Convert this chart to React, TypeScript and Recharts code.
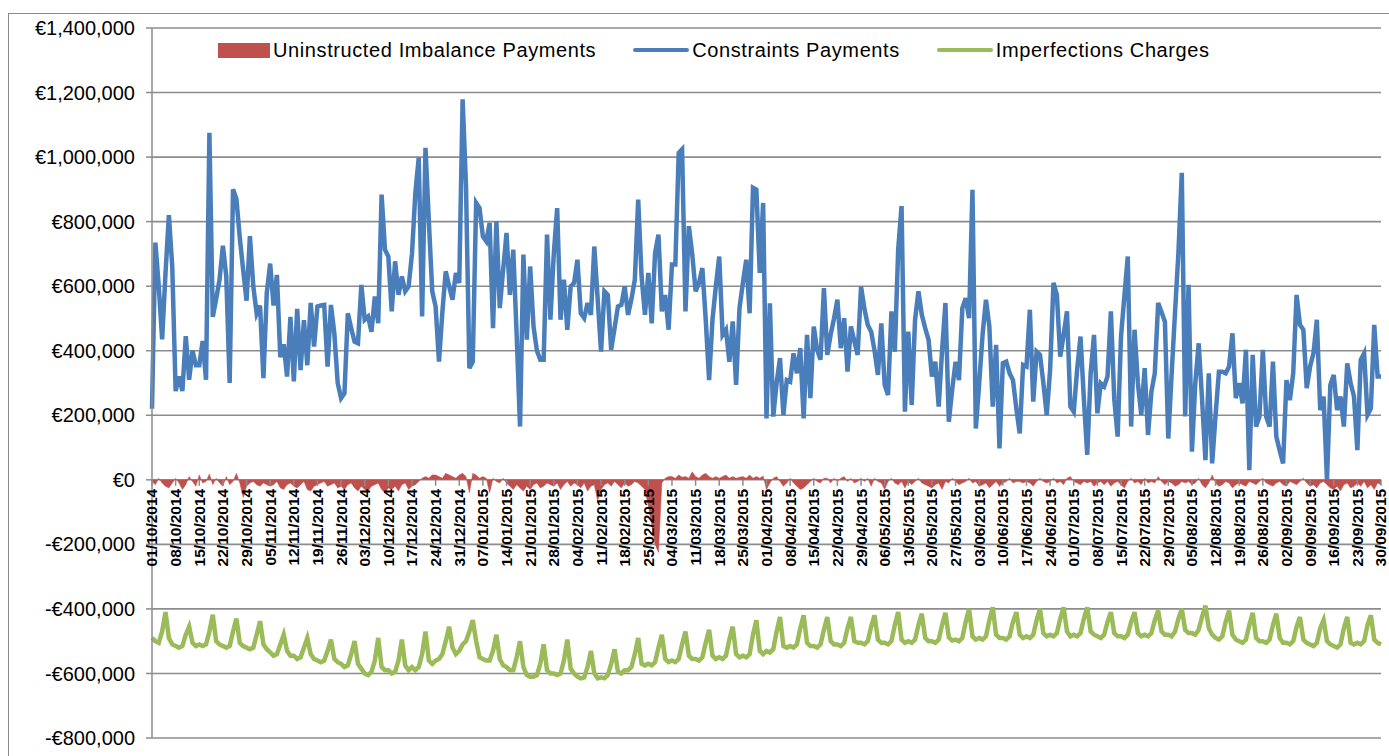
import React from "react";
import { ComposedChart, Line, Area, XAxis, YAxis, CartesianGrid } from "recharts";

// weekly tick labels shown on the category axis
const TICK_LABELS = [
  "01/10/2014", "08/10/2014", "15/10/2014", "22/10/2014", "29/10/2014", "05/11/2014", "12/11/2014",
  "19/11/2014", "26/11/2014", "03/12/2014", "10/12/2014", "17/12/2014", "24/12/2014", "31/12/2014",
  "07/01/2015", "14/01/2015", "21/01/2015", "28/01/2015", "04/02/2015", "11/02/2015", "18/02/2015",
  "25/02/2015", "04/03/2015", "11/03/2015", "18/03/2015", "25/03/2015", "01/04/2015", "08/04/2015",
  "15/04/2015", "22/04/2015", "29/04/2015", "06/05/2015", "13/05/2015", "20/05/2015", "27/05/2015",
  "03/06/2015", "10/06/2015", "17/06/2015", "24/06/2015", "01/07/2015", "08/07/2015", "15/07/2015",
  "22/07/2015", "29/07/2015", "05/08/2015", "12/08/2015", "19/08/2015", "26/08/2015", "02/09/2015",
  "09/09/2015", "16/09/2015", "23/09/2015", "30/09/2015",
];

const Y_TICKS = [-800000, -600000, -400000, -200000, 0, 200000, 400000, 600000, 800000, 1000000, 1200000, 1400000];

// daily values in thousands of euro, 01/10/2014 .. 30/09/2015
const constraintsK = [
  220, 735, 600, 435, 640, 820, 660, 275, 320, 275,
  445, 310, 400, 355, 355, 430, 310, 1075, 505, 560,
  620, 725, 630, 300, 900, 870, 750, 650, 555, 755,
  600, 515, 540, 315, 580, 670, 540, 635, 380, 420,
  320, 505, 305, 530, 340, 495, 355, 548, 413, 537,
  540, 542, 351, 542, 454, 300, 253, 268, 516, 470,
  428, 423, 604, 496, 506, 459, 568, 485, 884, 713,
  692, 522, 677, 573, 630, 584, 599, 700, 889, 998,
  506, 1029, 800, 584, 537, 366, 520, 646, 600, 558,
  641, 610, 1179, 910, 346, 366, 858, 842, 754, 739,
  796, 470, 801, 532, 650, 765, 573, 713, 450, 165,
  698, 434, 661, 475, 400, 372, 372, 760, 496, 700,
  842, 496, 620, 465, 599, 610, 682, 516, 501, 548,
  511, 723, 560, 397, 584, 573, 403, 470, 537, 542,
  599, 511, 560, 620, 868, 630, 511, 641, 485, 703,
  760, 522, 573, 465, 667, 667, 1013, 1024, 522, 786,
  700, 584, 610, 656, 496, 309, 496, 600, 692, 449,
  465, 366, 491, 294, 532, 610, 682, 516, 905, 899,
  641, 858, 190, 547, 196, 300, 377, 201, 309, 304,
  392, 330, 408, 190, 449, 253, 475, 403, 372, 594,
  387, 450, 500, 558, 408, 501, 335, 475, 430, 387,
  599, 530, 480, 459, 400, 325, 485, 294, 263, 522,
  397, 713, 848, 211, 459, 232, 496, 584, 511, 470,
  434, 320, 366, 227, 400, 548, 180, 280, 366, 309,
  532, 563, 501, 899, 159, 300, 450, 558, 475, 227,
  418, 97, 361, 366, 330, 309, 220, 144, 356, 351,
  527, 242, 397, 387, 300, 201, 341, 610, 573, 382,
  450, 522, 227, 211, 341, 444, 250, 77, 330, 449,
  206, 299, 289, 320, 522, 250, 134, 444, 570, 692,
  165, 465, 300, 201, 346, 139, 273, 330, 548, 520,
  490, 128, 330, 520, 703, 951, 196, 604, 87, 300,
  423, 250, 61, 330, 51, 200, 335, 335, 330, 351,
  454, 253, 300, 237, 403, 30, 387, 165, 196, 403,
  196, 165, 366, 134, 90, 51, 309, 247, 330, 573,
  480, 465, 284, 351, 392, 496, 216, 258, 0, 294,
  325, 216, 258, 165, 361, 300, 258, 92, 372, 392,
  201, 221, 480, 320, 320,
];

// one row per week (Wed..Tue)
const imbalanceK = [
  -5, -15, 5, -10, -20, -25, -10,
  5, -10, -30, -15, 10, -5, -20,
  15, -10, -5, 18, -15, 5, -10,
  -20, 10, -15, -5, 20, -10, -55,
  -20, -10, -5, -15, -20, -10, -15,
  -20, -15, -5, -25, -30, -15, -10,
  -20, -25, -15, -5, -30, -35, -20,
  -15, -10, -5, -20, -15, -10, -25,
  -20, -30, -15, -10, -25, -35, -20,
  -30, -35, -20, -15, -10, -30, -40,
  -25, -30, -20, -35, -15, -10, -30,
  -20, -15, -5, 5, 10, 5, 15,
  15, 10, 5, 20, 15, 10, 5,
  15, 20, 10, -40, 20, 15, 5,
  10, 5, -40, 5, -5, -10, 5,
  -10, -20, -30, -15, -25, -35, -20,
  -30, -15, -10, -25, -20, -10, -15,
  -20, -10, -30, -15, -5, -20, -10,
  -15, -25, -10, -35, -20, -15, -65,
  -30, -15, -10, -20, -5, -15, -25,
  -10, -20, -15, -5, -10, -20, -30,
  -80, -140, -200, -225, -10, 5, 10,
  10, 5, 15, 8, 10, 5, 25,
  10, 5, 15, 20, 10, 5, 10,
  5, 10, 15, 5, 10, 5, 8,
  10, 5, 15, 5, 10, 5, 12,
  -30, -10, 5, 10, -5, -20, -10,
  5, -10, -20, -30, -25, -15, -5,
  5, -5, -10, 5, 5, -10, 5,
  -5, 5, 10, -5, 5, -10, -5,
  5, -5, 5, -20, 5, -5, -10,
  -30, -5, 5, -10, -15, -5, -25,
  -5, -15, -5, 5, -10, -15, -20,
  -25, -15, -10, -30, -5, -10, 5,
  -5, -15, -10, -5, 5, -10, -5,
  -20, -15, -10, -25, -15, -5, -20,
  -10, -5, 5, -10, -5, -5, -10,
  -5, -10, -20, -5, 5, -5, -10,
  -5, 5, -10, -5, -15, 5, 10,
  -5, -10, -15, -5, -10, -5, -20,
  -10, -5, -15, -5, -20, -10, -5,
  -15, -25, -5, 5, -10, -5, -15,
  5, -10, -5, -10, 10, -5, -15,
  -5, -10, -20, -15, -5, -10, -5,
  -15, -10, 5, -15, -25, -10, 15,
  -10, -20, -15, -5, -10, -25, -15,
  -10, -15, -20, -5, -10, -15, -5,
  5, -10, -15, -20, -10, -5, -15,
  -20, -5, -10, -15, -5, 5, -10,
  -20, -15, -25, -10, -5, -15, -25,
  -30, -20, -35, -15, -10, -25, -20,
  -10, -20, -5, -25, -15, -30, -10,
  -15,
];

const imperfectionsK = [
  -490, -500, -505, -470, -410, -490, -510,
  -515, -520, -515, -480, -455, -505, -515,
  -510, -515, -510, -470, -418, -500, -510,
  -515, -520, -515, -470, -430, -505, -515,
  -520, -525, -520, -480, -438, -510, -525,
  -535, -545, -540, -510, -480, -530, -545,
  -545, -555, -550, -520, -490, -540, -555,
  -560, -565, -560, -530, -495, -555, -565,
  -570, -580, -575, -540, -500, -570, -585,
  -600, -605, -595, -560, -490, -580, -590,
  -590, -600, -595, -560, -495, -575, -590,
  -580, -590, -580, -540, -470, -560, -570,
  -560, -555, -540, -500, -455, -520, -540,
  -530, -510, -500, -470, -435, -500, -550,
  -555, -560, -560, -530, -480, -555, -575,
  -580, -590, -590, -550, -500, -580, -605,
  -610, -610, -605, -570, -510, -590, -600,
  -600, -605, -600, -560, -495, -585, -600,
  -610, -615, -612, -580, -530, -600, -615,
  -612, -615, -605, -570, -525, -595, -600,
  -590, -590, -580, -540, -490, -570, -575,
  -570, -575, -565, -520, -480, -555, -565,
  -560, -565, -555, -510, -470, -545, -555,
  -555, -560, -550, -505, -465, -545, -555,
  -550, -555, -545, -495, -455, -540, -550,
  -545, -550, -540, -480, -435, -530, -540,
  -530, -535, -525, -470, -425, -515, -520,
  -515, -520, -510, -460, -420, -505, -515,
  -515, -520, -510, -465, -425, -500, -510,
  -510, -515, -505, -460, -425, -500, -505,
  -505, -510, -500, -455, -420, -495, -505,
  -505, -510, -500, -450, -410, -495, -505,
  -500, -505, -495, -450, -415, -490, -500,
  -500, -505, -495, -450, -412, -488, -498,
  -495, -500, -490, -440, -400, -485, -495,
  -490, -495, -485, -435, -395, -480, -490,
  -490, -495, -485, -440, -410, -480, -490,
  -485, -490, -480, -435, -400, -475, -485,
  -480, -485, -475, -430, -395, -470, -485,
  -480, -485, -475, -430, -395, -470, -480,
  -485, -490, -480, -440, -410, -475, -485,
  -485, -490, -480, -440, -410, -475, -485,
  -480, -485, -475, -435, -405, -470, -480,
  -480, -485, -470, -430, -400, -465, -475,
  -475, -480, -465, -425, -390, -460, -480,
  -490, -495, -485, -440, -405, -480, -495,
  -500, -505, -495, -450, -412, -490, -500,
  -500, -505, -495, -450, -415, -490, -505,
  -505, -510, -500, -455, -425, -495, -505,
  -510, -515, -505, -460, -435, -500, -510,
  -515, -520, -510, -460, -425, -505, -510,
  -505, -510, -500, -450, -420, -495, -505,
  -510,
];

const RED = "#C0504D";
const BLUE = "#4A7EBB";
const GREEN = "#9BBB59";
const GRID = "#8C8C8C";

const CHART_W = 1389;
const CHART_H = 756;
const MARGIN = { top: 28, right: 8, bottom: 17, left: 0 };
const X_AXIS_H = 1;
const Y_MIN = Y_TICKS[0];
const Y_MAX = Y_TICKS[Y_TICKS.length - 1];
const PLOT_H = CHART_H - MARGIN.top - MARGIN.bottom - X_AXIS_H;
// the category axis crosses the value axis at zero, as in the spreadsheet
const ZERO_Y = MARGIN.top + (PLOT_H * Y_MAX) / (Y_MAX - Y_MIN);

const pad = (n: number) => (n < 10 ? "0" + n : "" + n);

const data = constraintsK.map((c, i) => {
  const d = new Date(2014, 9, 1 + i);
  return {
    date: `${pad(d.getDate())}/${pad(d.getMonth() + 1)}/${d.getFullYear()}`,
    imbalance: imbalanceK[i] * 1000,
    constraints: c * 1000,
    imperfections: imperfectionsK[i] * 1000,
  };
});

const formatEuro = (v: number) => {
  const s = "€" + Math.abs(v).toLocaleString("en-US");
  return v < 0 ? "-" + s : s;
};

function DateTick(props: any) {
  const { x, payload } = props;
  const ty = ZERO_Y + 9;
  return (
    <g>
      <line x1={x} y1={ZERO_Y} x2={x} y2={ZERO_Y + 6} stroke={GRID} strokeWidth={1.5} />
      <text
        x={x}
        y={ty}
        transform={`rotate(-90 ${x} ${ty})`}
        textAnchor="end"
        dominantBaseline="central"
        fontSize={15.5}
        fontWeight="bold"
        fontFamily="Liberation Sans, Arial, sans-serif"
        fill="#000"
      >
        {payload.value}
      </text>
    </g>
  );
}

const legendText: React.CSSProperties = {
  fontSize: 20,
  letterSpacing: 0.6,
  color: "#000",
  marginLeft: 3,
  whiteSpace: "nowrap",
};

export default function App() {
  return (
    <div
      style={{
        position: "absolute",
        left: 0,
        top: 0,
        width: CHART_W,
        height: CHART_H,
        background: "#fff",
        fontFamily: "Liberation Sans, Arial, sans-serif",
        overflow: "hidden",
      }}
    >
      <div
        style={{
          position: "absolute",
          left: 8,
          top: 13,
          width: 1500,
          height: 900,
          borderLeft: "1.5px solid #8a8a8a",
          borderTop: "1.5px solid #8a8a8a",
        }}
      />
      <ComposedChart width={CHART_W} height={CHART_H} data={data} margin={MARGIN}>
        <CartesianGrid vertical={false} stroke={GRID} strokeWidth={1.6} />
        <XAxis
          dataKey="date"
          ticks={TICK_LABELS}
          interval={0}
          tick={<DateTick />}
          tickLine={false}
          axisLine={false}
          height={X_AXIS_H}
        />
        <YAxis
          domain={[Y_MIN, Y_MAX]}
          ticks={Y_TICKS}
          interval={0}
          width={152}
          tickFormatter={formatEuro}
          tick={{ fontSize: 20, fill: "#000", fontFamily: "Liberation Sans, Arial, sans-serif" }}
          tickSize={6}
          tickMargin={11}
          tickLine={{ stroke: GRID, strokeWidth: 1.5 }}
          axisLine={{ stroke: GRID, strokeWidth: 1.5 }}
        />
        <Area
          type="linear"
          dataKey="imbalance"
          baseValue={0}
          fill={RED}
          fillOpacity={1}
          stroke={RED}
          strokeWidth={0.5}
          isAnimationActive={false}
        />
        <Line
          type="linear"
          dataKey="constraints"
          stroke={BLUE}
          strokeWidth={4.5}
          dot={false}
          isAnimationActive={false}
        />
        <Line
          type="linear"
          dataKey="imperfections"
          stroke={GREEN}
          strokeWidth={4.5}
          dot={false}
          isAnimationActive={false}
        />
      </ComposedChart>
      <div
        style={{
          position: "absolute",
          left: 218,
          top: 38,
          display: "flex",
          alignItems: "center",
          gap: 37,
          lineHeight: "24px",
        }}
      >
        <div style={{ display: "flex", alignItems: "center" }}>
          <span style={{ display: "inline-block", width: 52, height: 15, background: RED }} />
          <span style={legendText}>Uninstructed Imbalance Payments</span>
        </div>
        <div style={{ display: "flex", alignItems: "center" }}>
          <span style={{ display: "inline-block", width: 56, height: 4.5, background: BLUE, borderRadius: 2 }} />
          <span style={legendText}>Constraints Payments</span>
        </div>
        <div style={{ display: "flex", alignItems: "center" }}>
          <span style={{ display: "inline-block", width: 56, height: 4.5, background: GREEN, borderRadius: 2 }} />
          <span style={legendText}>Imperfections Charges</span>
        </div>
      </div>
    </div>
  );
}
